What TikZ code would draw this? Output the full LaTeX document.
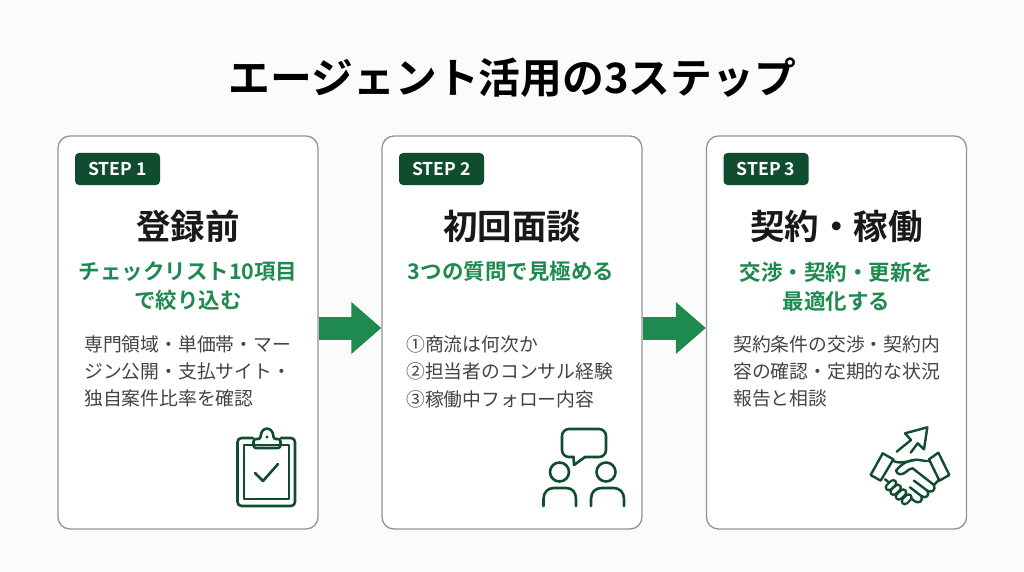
\documentclass[tikz,border=0pt]{standalone}
\usepackage{fontspec}
\setmainfont{Noto Sans CJK JP}[BoldFont={Noto Sans CJK JP Bold}]
\usetikzlibrary{arrows.meta}
\definecolor{dkgreen}{HTML}{0F4D2E}
\definecolor{midgreen}{HTML}{1F8A50}
\definecolor{bodytxt}{HTML}{444444}
\definecolor{bggray}{HTML}{FBFBFB}
\tikzset{
  card/.style={draw=black!42,line width=1.3pt,fill=white,rounded corners=12pt,minimum width=260pt,minimum height=393pt,inner sep=0pt},
  badge/.style={fill=dkgreen,rounded corners=4pt,minimum width=85pt,minimum height=32pt,inner sep=0pt,text=white,font=\fontsize{17.6}{17.6}\selectfont\bfseries},
  head/.style={text=black!90,inner sep=0pt,font=\fontsize{34.5}{34.5}\selectfont\bfseries},
  sub/.style={text=midgreen,inner sep=0pt,align=center,font=\fontsize{21.5}{29}\selectfont\bfseries},
  bodyt/.style={text=bodytxt,inner sep=0pt,align=left,anchor=north west,font=\fontsize{18.8}{27.2}\selectfont},
  flow/.style={draw=midgreen,line width=23pt,-{Triangle[length=30pt,width=50pt]}},
  icon/.style={draw=dkgreen,line width=2.6pt,line join=round,line cap=round},
}
\begin{document}
\begin{tikzpicture}[x=1pt,y=-1pt]
\useasboundingbox (0,0) rectangle (1024,572);
\fill[bggray] (0,0) rectangle (1024,572);
\node[inner sep=0pt,text=black,font=\fontsize{41.8}{42}\selectfont\bfseries] (title) at (512.5,78) {エージェント活用の3ステップ};

\node[card] (c1) at (188,332.5) {};
\node[card] (c2) at (512,332.5) {};
\node[card] (c3) at (836.5,332.5) {};

\node[badge] (b1) at (117.5,169) {STEP 1};
\node[badge] (b2) at (441.5,169) {STEP 2};
\node[badge] (b3) at (766,169) {STEP 3};

\node[head] (h1) at (188,226) {登録前};
\node[head] (h2) at (512,226) {初回面談};
\node[head] (h3) at (836.5,226) {契約・稼働};

\node[sub] (s1) at (188,286.5) {チェックリスト10項目\\で絞り込む};
\node[sub] (s2) at (511,271.5) {3つの質問で見極める};
\node[sub] (s3) at (836.5,286.5) {交渉・契約・更新を\\最適化する};

\node[bodyt] (t1) at (84,335.5) {専門領域・単価帯・マー\\ジン公開・支払サイト・\\独自案件比率を確認};
\node[bodyt] (t2) at (406,335.5) {①商流は何次か\\②担当者のコンサル経験\\③稼働中フォロー内容};
\node[bodyt] (t3) at (733,335.5) {契約条件の交渉・契約内\\容の確認・定期的な状況\\報告と相談};

\coordinate (ay) at (0,328);
\draw[flow] (c1.east |- ay) -- (c2.west |- ay);
\draw[flow] (c2.east |- ay) -- (c3.west |- ay);

% clipboard
\draw[icon,rounded corners=4pt] (253,438) -- (237.5,438) -- (237.5,506) -- (295,506) -- (295,438) -- (281,438);
\draw[icon] (244,445) rectangle (289,499);
\draw[icon,rounded corners=2.5pt] (253.5,448) -- (253.5,439) -- (260.5,439) .. controls (261,426) and (273,426) .. (273.5,439) -- (280.5,439) -- (280.5,448) -- cycle;
\fill[dkgreen] (267,437) circle (1.7pt);
\draw[icon] (255,473) -- (263,481) -- (278,464);

% people
\draw[icon,rounded corners=7pt] (573.5,457) -- (562,457) -- (562,429) -- (606,429) -- (606,457) -- (585,457);
\draw[icon] (573.5,457) -- (574,465) -- (585,457);
\draw[icon] (559.5,472) circle (9.5pt);
\draw[icon] (606,472) circle (9.5pt);
\draw[icon] (543.5,506) -- (543.5,499) .. controls (543.5,492) and (548,488) .. (554,488) -- (566,488) .. controls (572,488) and (576,492) .. (576,499) -- (576,506);
\draw[icon] (591,506) -- (591,499) .. controls (591,492) and (595.5,488) .. (601.5,488) -- (613.5,488) .. controls (619.5,488) and (624,492) .. (624,499) -- (624,506);

% handshake
\begin{scope}[shift={(850,410)},x=0.33333pt,y=-0.33333pt]
\tikzset{hs/.style={draw=dkgreen,line width=2.4pt,line join=round,line cap=round},
  finger/.style={draw=dkgreen,line width=2.3pt,double=white,double distance=3.6pt,line cap=round}}
\draw[hs] (140,125) -- (183,90) -- (165,70) -- (232,52) -- (222,118) -- (203,100) -- (182,128);
\draw[hs] (98,130) -- (130,148) -- (92,212) -- (62,195) -- cycle;
\draw[hs] (237,148) -- (265,128) -- (298,195) -- (268,212) -- cycle;
\draw[hs] (128,152) .. controls (140,160) and (165,158) .. (190,150) .. controls (205,146) and (220,155) .. (238,153);
\draw[hs] (195,150) .. controls (170,152) and (150,165) .. (138,182) .. controls (142,195) and (155,195) .. (165,188) .. controls (175,180) and (180,175) .. (188,175) -- (252,225);
\draw[hs] (252,225) -- (268,208);
\draw[hs] (105,208) -- (118,218);
\draw[hs] (252,225) .. controls (258,240) and (245,250) .. (232,242) -- (192,212);
\draw[hs] (232,242) .. controls (240,256) and (228,268) .. (214,258) -- (180,232);
\draw[hs] (214,258) .. controls (220,272) and (208,284) .. (192,272) -- (172,256);
\draw[finger] (116,232) -- (130,219);
\draw[finger] (130,246) -- (144,233);
\draw[finger] (146,260) -- (160,247);
\draw[finger] (164,274) -- (176,262);
\end{scope}
\end{tikzpicture}
\end{document}
